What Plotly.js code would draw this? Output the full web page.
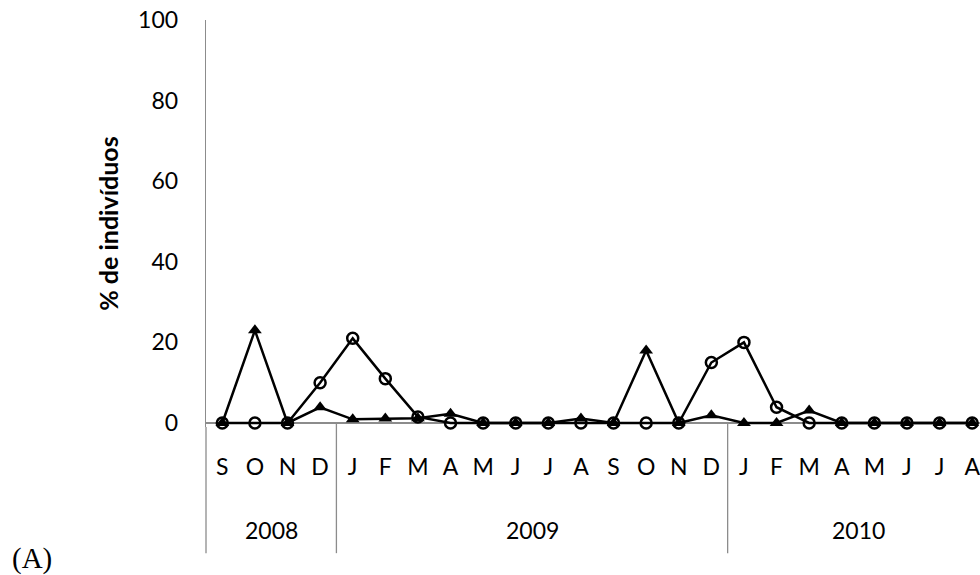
<!DOCTYPE html>
<html>
<head>
<meta charset="utf-8">
<script src="https://cdn.plot.ly/plotly-3.0.1.min.js"></script>
<style>
  html, body { margin: 0; padding: 0; background: #fff; }
  #chart { width: 980px; height: 575px; }
</style>
</head>
<body>
<div id="chart"></div>
<script>
// Monthly sampling, Sep 2008 – Aug 2010
const months = ['S','O','N','D','J','F','M','A','M','J','J','A','S','O','N','D','J','F','M','A','M','J','J','A'];
const years = ['2008','2009','2010'];
const monthsPerYear = [4, 12, 8];

// % de indivíduos per month
const seriesCircle   = [0, 0, 0, 10, 21, 11, 1.5, 0, 0, 0, 0, 0, 0, 0, 0, 15, 20, 3.9, 0, 0, 0, 0, 0, 0];
const seriesTriangle = [0, 23, 0, 3.9, 0.9, 1.1, 1.2, 2.3, 0, 0, 0, 1.1, 0, 18, 0, 1.9, 0, 0, 3.1, 0, 0, 0, 0, 0];

const yTicks = [0, 20, 40, 60, 80, 100];

const idx = months.map((_, i) => i);
const yRange = [-1, 100];
const xRange = [-0.5, 23.24];

// paper-y of the zero line, used as the top of the year dividers
const yZeroPaper = (0 - yRange[0]) / (yRange[1] - yRange[0]);
const dividerBottom = -0.31;

const FONT = 'Lato, "Open Sans", sans-serif';
const AXIS_GREY = '#8c8c8c';
const LABEL_SIZE = 23;

// year group boundaries and label positions
const shapes = [];
const annotations = [];
let start = 0;
years.forEach((yr, k) => {
  const end = start + monthsPerYear[k] - 1;
  annotations.push({
    x: (start + end) / 2, xref: 'x',
    y: -0.253, yref: 'paper',
    text: yr, showarrow: false,
    xanchor: 'center', yanchor: 'middle',
    font: { family: FONT, size: LABEL_SIZE, color: '#000' }
  });
  if (k < years.length - 1) {
    shapes.push({
      type: 'line', xref: 'x', yref: 'paper',
      x0: end + 0.5, x1: end + 0.5, y0: yZeroPaper, y1: dividerBottom,
      line: { color: AXIS_GREY, width: 1.3 }
    });
  }
  start = end + 1;
});

// the value axis continues down past the month and year rows
shapes.push({
  type: 'line', xref: 'paper', yref: 'paper',
  x0: 0, x1: 0, y0: 0, y1: dividerBottom,
  line: { color: AXIS_GREY, width: 1.3 }
});

annotations.push({
  x: -0.225, xref: 'paper', y: -0.322, yref: 'paper',
  text: '(A)', showarrow: false,
  xanchor: 'center', yanchor: 'middle',
  font: { family: '"Liberation Serif", "Times New Roman", serif', size: 29, color: '#000' }
});

const traces = [
  {
    x: idx, y: seriesCircle, type: 'scatter', mode: 'lines+markers',
    cliponaxis: false,
    line: { color: '#000', width: 2.5 },
    marker: { symbol: 'circle-open', size: 11, color: '#000', line: { width: 2.5, color: '#000' } },
    hoverinfo: 'x+y'
  },
  {
    x: idx, y: seriesTriangle, type: 'scatter', mode: 'lines+markers',
    cliponaxis: false,
    line: { color: '#000', width: 2.5 },
    marker: { symbol: 'triangle-up', size: 12, color: '#000' },
    hoverinfo: 'x+y'
  }
];

const layout = {
  width: 980, height: 575,
  margin: { l: 206, r: 0, t: 20, b: 148, pad: 0 },
  paper_bgcolor: '#fff', plot_bgcolor: '#fff',
  showlegend: false,
  xaxis: {
    range: xRange,
    tickmode: 'array', tickvals: idx, ticktext: months,
    showgrid: false, zeroline: false, showline: false,
    ticks: '', ticklabelstandoff: 24,
    ticklabeloverflow: 'allow',
    tickfont: { family: FONT, size: LABEL_SIZE, color: '#000' },
    fixedrange: true
  },
  yaxis: {
    range: yRange,
    tickmode: 'array', tickvals: yTicks,
    showgrid: false,
    zeroline: true, zerolinecolor: AXIS_GREY, zerolinewidth: 1.3,
    showline: true, linecolor: AXIS_GREY, linewidth: 1.3,
    ticks: '', ticklabelstandoff: 22,
    tickfont: { family: FONT, size: LABEL_SIZE, color: '#000' },
    title: {
      text: '% de indivíduos', standoff: 12,
      font: { family: FONT, size: 25, color: '#000', weight: 'bold' }
    },
    automargin: false,
    fixedrange: true
  },
  shapes: shapes,
  annotations: annotations
};

Plotly.newPlot('chart', traces, layout, { displayModeBar: false, staticPlot: true });
</script>
</body>
</html>
